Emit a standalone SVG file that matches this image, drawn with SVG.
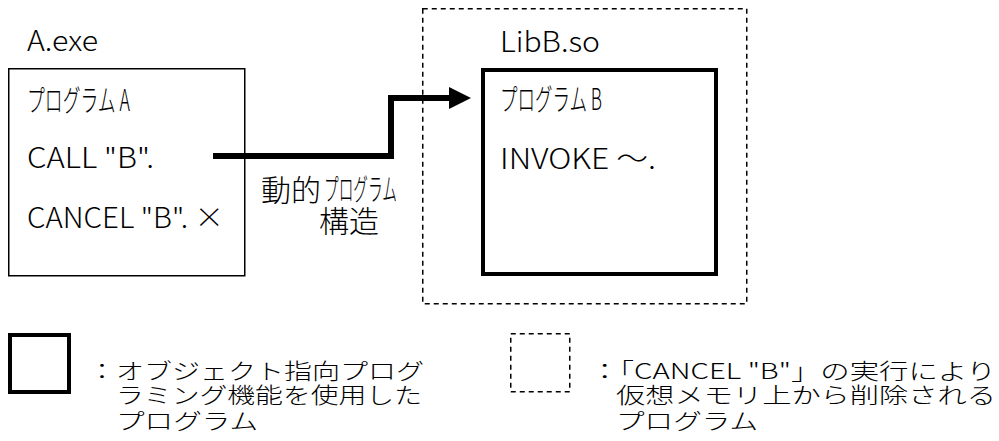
<svg xmlns="http://www.w3.org/2000/svg" width="999" height="441" viewBox="0 0 999 441">
<style>
  text { font-family: "Noto Sans CJK JP", "Liberation Sans", sans-serif; fill: #000; font-weight: 300; }
  .lbl { font-size: 28px; }
  .code { font-size: 28px; }
  .kana { font-size: 30px; }
  .big { font-size: 30px; }
  .leg { font-size: 22px; }
  .thin { fill: none; stroke: #000; stroke-width: 1.5; }
  .thick { fill: none; stroke: #000; stroke-width: 4; }
  .dash { fill: none; stroke: #000; stroke-width: 1.5; stroke-dasharray: 5 4; }
  .conn { fill: none; stroke: #000; stroke-width: 6; stroke-linejoin: miter; }
</style>
<rect width="999" height="441" fill="#fff"/>

<g id="node-a-exe">
  <text class="lbl" x="27" y="51" textLength="71" lengthAdjust="spacingAndGlyphs">A.exe</text>
  <rect class="thin" x="8.75" y="68.75" width="236" height="207"/>
  <text class="kana" x="27" y="111" textLength="103" lengthAdjust="spacingAndGlyphs">プログラム A</text>
  <text class="code" x="27" y="168" textLength="127" lengthAdjust="spacingAndGlyphs">CALL "B".</text>
  <text class="code" x="27" y="228" textLength="197" lengthAdjust="spacingAndGlyphs">CANCEL "B".  ×</text>
</g>

<g id="node-libb-so">
  <rect class="dash" x="422.75" y="8.75" width="324" height="295"/>
  <text class="lbl" x="500" y="52" textLength="100" lengthAdjust="spacingAndGlyphs">LibB.so</text>
  <rect class="thick" x="483" y="70" width="233" height="204"/>
  <text class="kana" x="500" y="110" textLength="102" lengthAdjust="spacingAndGlyphs">プログラム B</text>
  <text class="code" x="500" y="169" textLength="156" lengthAdjust="spacingAndGlyphs">INVOKE  ～.</text>
</g>

<g id="connectors">
  <polyline class="conn" points="213,156 391,156 391,98 452,98"/>
  <polygon points="449,87 471,98 449,109" fill="#000"/>
  <text class="big"><tspan x="261" y="201">動的</tspan><tspan class="kana" x="324" y="200" textLength="73" lengthAdjust="spacingAndGlyphs">プログラム</tspan><tspan x="319" y="232" textLength="60" lengthAdjust="spacingAndGlyphs">構造</tspan></text>
</g>

<g id="legend-solid">
  <rect class="thick" x="10" y="335" width="59" height="57"/>
  <text class="leg"><tspan x="88" y="379" textLength="336" lengthAdjust="spacingAndGlyphs">：オブジェクト指向プログ</tspan><tspan x="116" y="403" textLength="306" lengthAdjust="spacingAndGlyphs">ラミング機能を使用した</tspan><tspan x="116" y="429" textLength="142" lengthAdjust="spacingAndGlyphs">プログラム</tspan></text>
</g>

<g id="legend-dashed">
  <rect class="dash" x="510.75" y="333.75" width="59" height="58"/>
  <text class="leg"><tspan x="590" y="379" textLength="406" lengthAdjust="spacingAndGlyphs">：「CANCEL "B"」の実行により</tspan><tspan x="616" y="403" textLength="380" lengthAdjust="spacingAndGlyphs">仮想メモリ上から削除される</tspan><tspan x="616" y="429" textLength="142" lengthAdjust="spacingAndGlyphs">プログラム</tspan></text>
</g>
</svg>
